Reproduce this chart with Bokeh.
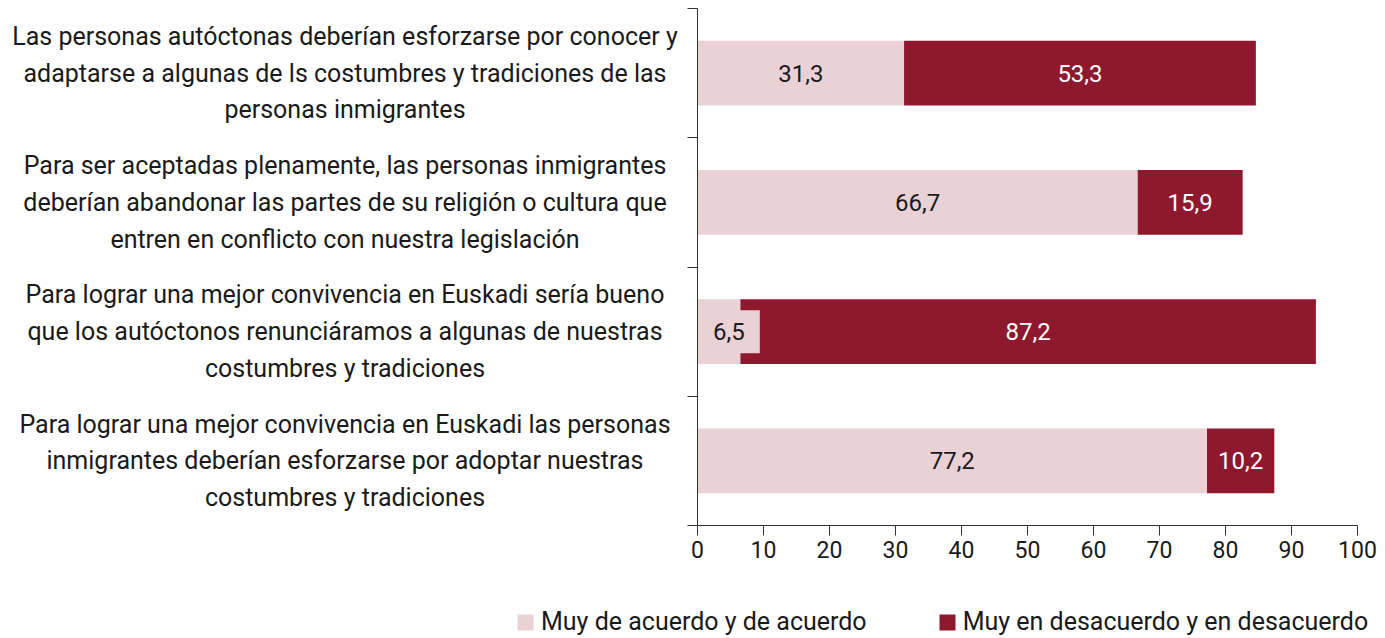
from bokeh.plotting import figure
from bokeh.models import Range1d, FixedTicker, Label, Legend, LegendItem
from bokeh.layouts import column, row
from bokeh.core.properties import value
from bokeh.embed import file_html
from bokeh.resources import INLINE

categories = [
    "Las personas autóctonas deberían esforzarse por conocer y\nadaptarse a algunas de ls costumbres y tradiciones de las\npersonas inmigrantes",
    "Para ser aceptadas plenamente, las personas inmigrantes\ndeberían abandonar las partes de su religión o cultura que\nentren en conflicto con nuestra legislación",
    "Para lograr una mejor convivencia en Euskadi sería bueno\nque los autóctonos renunciáramos a algunas de nuestras\ncostumbres y tradiciones",
    "Para lograr una mejor convivencia en Euskadi las personas\ninmigrantes deberían esforzarse por adoptar nuestras\ncostumbres y tradiciones",
]
acuerdo = [31.3, 66.7, 6.5, 77.2]
desacuerdo = [53.3, 15.9, 87.2, 10.2]
series_names = ["Muy de acuerdo y de acuerdo", "Muy en desacuerdo y en desacuerdo"]
x_ticks = [0, 10, 20, 30, 40, 50, 60, 70, 80, 90, 100]

PINK = "#E9D1D6"
DARK = "#8E182D"
FONT = "Roboto"
TXT = "#1a1a1a"

n = len(categories)
ypos = [n - i - 0.5 for i in range(n)]
ends = [a + d for a, d in zip(acuerdo, desacuerdo)]
yr = Range1d(0, n)

# ---- left figure: category labels ----
LW = 687
lf = figure(width=LW, height=570, output_backend="svg", toolbar_location=None,
            x_range=Range1d(0, LW), y_range=yr,
            min_border_left=0, min_border_right=0, min_border_top=8, min_border_bottom=45,
            x_axis_location=None, y_axis_location=None)
lf.outline_line_color = None
lf.xgrid.visible = False
lf.ygrid.visible = False
lf.text(x=[LW / 2 + 1] * n, y=ypos, text=categories, text_align="center",
        text_baseline="middle", text_font=value(FONT), text_font_size="25px",
        text_color=TXT, text_line_height=1.27)

# ---- main chart ----
p = figure(width=690, height=570, output_backend="svg", toolbar_location=None,
           x_range=Range1d(0, 100), y_range=yr,
           min_border_left=10, min_border_right=20, min_border_top=8, min_border_bottom=45)
p.outline_line_color = None
p.xgrid.visible = False
p.ygrid.visible = False

p.hbar(y=ypos, left=0, right=acuerdo, height=0.5, fill_color=PINK, line_color=None)
p.hbar(y=ypos, left=acuerdo, right=ends, height=0.5, fill_color=DARK, line_color=None)

p.xaxis.ticker = FixedTicker(ticks=x_ticks)
p.xaxis.minor_tick_line_color = None
p.xaxis.major_tick_out = 10
p.xaxis.major_tick_in = 0
p.xaxis.axis_line_color = "#333333"
p.xaxis.major_tick_line_color = "#333333"
p.xaxis.major_label_text_font = FONT
p.xaxis.major_label_text_font_size = "23px"
p.xaxis.major_label_text_color = TXT
p.xaxis.major_label_standoff = 5

p.yaxis.ticker = FixedTicker(ticks=list(range(n + 1)))
p.yaxis.minor_tick_line_color = None
p.yaxis.major_tick_out = 10
p.yaxis.major_tick_in = 0
p.yaxis.axis_line_color = "#333333"
p.yaxis.major_tick_line_color = "#333333"
p.yaxis.major_label_standoff = 0
p.yaxis.major_label_overrides = {i: "" for i in range(n + 1)}

for a, d, y in zip(acuerdo, desacuerdo, ypos):
    sa = f"{a:.1f}".replace(".", ",")
    sd = f"{d:.1f}".replace(".", ",")
    if a < 10:
        p.add_layout(Label(x=a / 2, y=y, x_offset=10, text=sa, text_align="center",
                           text_baseline="middle", text_font=FONT,
                           text_font_size="24px", text_color=TXT,
                           background_fill_color=PINK, padding=(15, 13)))
    else:
        p.add_layout(Label(x=a / 2, y=y, text=sa, text_align="center",
                           text_baseline="middle", text_font=FONT,
                           text_font_size="24px", text_color=TXT))
    p.add_layout(Label(x=a + d / 2, y=y, text=sd, text_align="center",
                       text_baseline="middle", text_font=FONT,
                       text_font_size="24px", text_color="white"))

# ---- legend strip (proxy glyphs lie outside its visible range) ----
lg = figure(width=LW + 690, height=66, output_backend="svg", toolbar_location=None,
            x_range=Range1d(0, 1), y_range=Range1d(0, 1),
            min_border_left=0, min_border_right=0, min_border_top=0, min_border_bottom=0,
            x_axis_location=None, y_axis_location=None)
lg.outline_line_color = None
lg.xgrid.visible = False
lg.ygrid.visible = False
g1 = lg.hbar(y=[5], left=[5], right=[6], height=0.5, fill_color=PINK, line_color=None)
g2 = lg.hbar(y=[5], left=[5], right=[6], height=0.5, fill_color=DARK, line_color=None)
legend = Legend(items=[LegendItem(label=series_names[0], renderers=[g1]),
                       LegendItem(label=series_names[1], renderers=[g2])],
                orientation="horizontal", location=(515, 0),
                padding=0, margin=0, spacing=70, label_standoff=6,
                glyph_width=20, glyph_height=20,
                label_text_font=FONT, label_text_font_size="25px",
                label_text_color=TXT,
                border_line_color=None, background_fill_alpha=0)
lg.add_layout(legend, "center")

layout = column(row(lf, p), lg)
open("out.html", "w").write(file_html(layout, INLINE))
